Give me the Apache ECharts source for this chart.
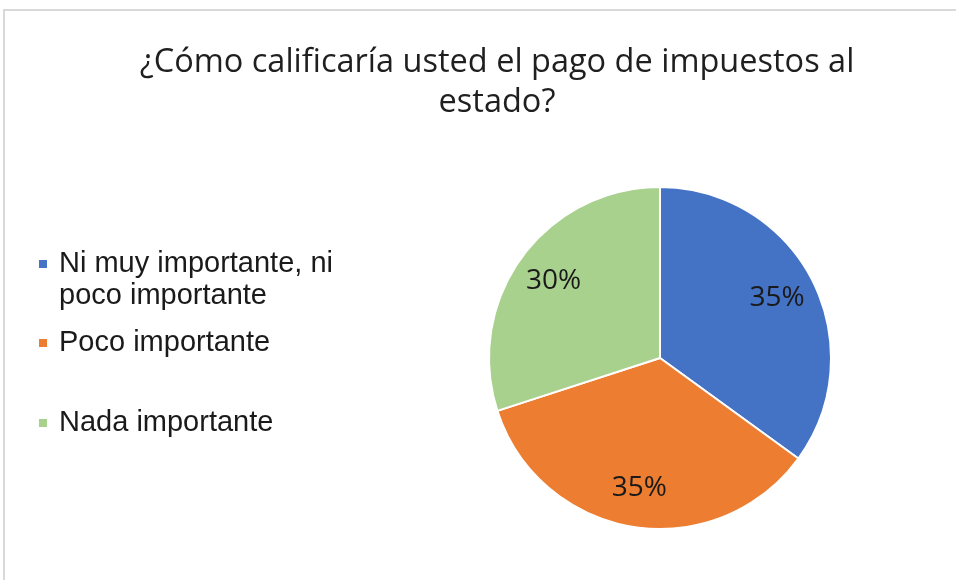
<!DOCTYPE html>
<html>
<head>
<meta charset="utf-8">
<script src="https://cdn.jsdelivr.net/npm/echarts@6/dist/echarts.min.js"></script>
<style>
  html, body { margin: 0; padding: 0; background: #fff; }
  #chart { width: 956px; height: 580px; }
</style>
</head>
<body>
<div id="chart"></div>
<script>
// datos
const categories = ['Ni muy importante, ni poco importante', 'Poco importante', 'Nada importante']
// la primera línea vacía deja el marcador a la altura de la primera línea del texto
const legendLabels = ['\nNi muy importante, ni\npoco importante', 'Poco importante', 'Nada importante']
const values = [35, 35, 30]
const colors = ['#4472C4', '#ED7D31', '#A9D18E']

const pieData = categories.map((name, i) => ({ name: name, value: values[i] }))

const chart = echarts.init(document.getElementById('chart'))

const legendTops = [216, 327, 407]
const legends = categories.map((name, i) => ({
  data: [name],
  orient: 'vertical',
  left: 37,
  top: legendTops[i],
  padding: 0,
  icon: 'rect',
  itemWidth: 10,
  itemHeight: 10,
  itemGap: 0,
  selectedMode: false,
  formatter: () => legendLabels[i],
  textStyle: {
    fontFamily: 'Liberation Sans',
    fontSize: 29,
    lineHeight: 32,
    color: '#1a1a1a',
    padding: [0, 0, 0, 6]
  }
}))

chart.setOption({
  color: colors,
  animation: false,
  title: {
    text: '¿Cómo calificaría usted el pago de impuestos al\nestado?',
    left: 492,
    top: 38,
    textAlign: 'center',
    textStyle: {
      fontFamily: 'Open Sans',
      fontWeight: 'normal',
      fontSize: 32.5,
      lineHeight: 40,
      color: '#1f1f1f'
    }
  },
  legend: legends,
  graphic: [{
    type: 'rect',
    shape: { x: 4, y: 10, width: 1000, height: 600 },
    style: { fill: 'none', stroke: '#d9d9d9', lineWidth: 2 },
    silent: true
  }],
  series: [
    {
      type: 'pie',
      center: [660, 358],
      radius: 171,
      startAngle: 90,
      clockwise: true,
      data: pieData,
      label: { show: false },
      labelLine: { show: false },
      itemStyle: { borderColor: '#fff', borderWidth: 2 },
      emphasis: { disabled: true }
    },
    {
      // serie auxiliar solo para colocar las etiquetas
      type: 'pie',
      center: [660, 358],
      radius: [86, 171],
      startAngle: 90,
      clockwise: true,
      silent: true,
      data: pieData,
      itemStyle: { color: 'transparent', borderWidth: 0 },
      label: {
        show: true,
        position: 'inside',
        formatter: '{d}%',
        fontFamily: 'Open Sans',
        fontSize: 28,
        color: '#1a1a1a'
      },
      labelLine: { show: false },
      emphasis: { disabled: true }
    }
  ]
})
</script>
</body>
</html>
